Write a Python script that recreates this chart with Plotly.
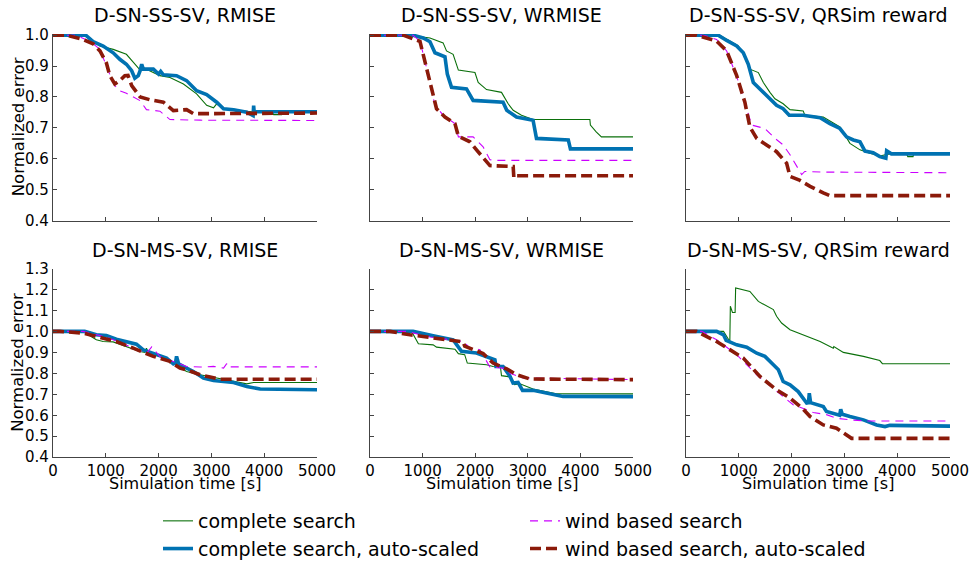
import plotly.graph_objects as go

# ---------------------------------------------------------------------------
# Normalized error vs. simulation time, six scenarios (2 rows x 3 metrics)
# ---------------------------------------------------------------------------

panel_titles = [
    "D-SN-SS-SV, RMISE", "D-SN-SS-SV, WRMISE", "D-SN-SS-SV, QRSim reward",
    "D-SN-MS-SV, RMISE", "D-SN-MS-SV, WRMISE", "D-SN-MS-SV, QRSim reward",
]
series_names = [
    "complete search",
    "complete search, auto-scaled",
    "wind based search",
    "wind based search, auto-scaled",
]
x_ticks = [0, 1000, 2000, 3000, 4000, 5000]

# --- D-SN-SS-SV, RMISE ------------------------------------------------------
ss_rmise_cs_t = [0, 600, 890, 1140, 1390, 1550, 1650, 1710, 1900, 2025, 2215, 2470, 2720, 2910,
                 3040, 3100, 3230, 3420, 3800, 4150, 4180, 4330, 4340, 5000]
ss_rmise_cs_v = [1.0, 1.0, 0.965, 0.954, 0.938, 0.906, 0.887, 0.895, 0.879, 0.869, 0.863, 0.842, 0.81, 0.773,
                 0.765, 0.778, 0.762, 0.759, 0.751, 0.751, 0.743, 0.743, 0.753, 0.753]
ss_rmise_csa_t = [0, 620, 760, 950, 1140, 1265, 1390, 1490, 1550, 1615, 1650, 1680, 1710, 1900, 2000, 2040,
                  2090, 2340, 2530, 2720, 2910, 3100, 3230, 3420, 3670, 3790, 3800, 3810, 3860, 5000]
ss_rmise_csa_v = [1.0, 1.0, 0.979, 0.965, 0.943, 0.922, 0.906, 0.885, 0.861, 0.869, 0.885, 0.906, 0.89, 0.89,
                  0.874, 0.883, 0.872, 0.869, 0.853, 0.82, 0.808, 0.783, 0.762, 0.759, 0.751, 0.74, 0.772,
                  0.751, 0.752, 0.752]
ss_rmise_wb_t = [0, 440, 700, 890, 1045, 1170, 1265, 1390, 1650, 1770, 2025, 2215, 2785, 5000]
ss_rmise_wb_v = [1.0, 1.0, 0.98, 0.954, 0.885, 0.837, 0.82, 0.812, 0.788, 0.759, 0.754, 0.727, 0.725, 0.724]
ss_rmise_wba_t = [0, 250, 570, 760, 890, 1010, 1076, 1170, 1265, 1360, 1420, 1490, 1650, 1835, 2090, 2280,
                  2530, 2660, 5000]
ss_rmise_wba_v = [1.0, 1.0, 0.986, 0.972, 0.949, 0.911, 0.869, 0.842, 0.853, 0.869, 0.87, 0.837, 0.8, 0.791,
                  0.783, 0.756, 0.759, 0.746, 0.748]

# --- D-SN-SS-SV, WRMISE -----------------------------------------------------
ss_wrmise_cs_t = [0, 760, 1140, 1390, 1455, 1580, 1680, 1995, 2057, 2215, 2500, 2627, 2722, 2880, 3100,
                  4180, 4190, 4300, 4400, 5000]
ss_wrmise_cs_v = [1.0, 1.0, 0.991, 0.975, 0.949, 0.938, 0.887, 0.879, 0.847, 0.824, 0.815, 0.778, 0.757,
                  0.741, 0.727, 0.727, 0.709, 0.687, 0.671, 0.671]
ss_wrmise_csa_t = [0, 820, 1010, 1140, 1235, 1330, 1425, 1470, 1550, 1835, 1960, 2530, 2600, 2785, 3100,
                   3165, 3770, 3810, 5000]
ss_wrmise_csa_v = [1.0, 1.0, 0.991, 0.979, 0.943, 0.938, 0.93, 0.874, 0.831, 0.826, 0.789, 0.783, 0.757,
                   0.735, 0.725, 0.666, 0.661, 0.632, 0.632]
ss_wrmise_wb_t = [0, 820, 950, 1045, 1140, 1235, 1390, 1615, 1680, 1960, 2150, 2280, 2405, 5000]
ss_wrmise_wb_v = [1.0, 1.0, 0.98, 0.917, 0.842, 0.773, 0.741, 0.714, 0.671, 0.671, 0.639, 0.597, 0.595, 0.595]
ss_wrmise_wba_t = [0, 630, 950, 1010, 1076, 1140, 1200, 1265, 1425, 1615, 1680, 1900, 2025, 2280, 2722,
                   2735, 2785, 5000]
ss_wrmise_wba_v = [1.0, 1.0, 0.98, 0.938, 0.885, 0.842, 0.8, 0.762, 0.735, 0.714, 0.673, 0.655, 0.629,
                   0.578, 0.575, 0.538, 0.545, 0.545]

# --- D-SN-SS-SV, QRSim reward -----------------------------------------------
ss_qrsim_cs_t = [0, 640, 830, 990, 1085, 1210, 1370, 1465, 1590, 1685, 1840, 1970, 2220, 2250, 2600, 2915,
                 3105, 3295, 3480, 3670, 3860, 4180, 4200, 4300, 4310, 5000]
ss_qrsim_cs_v = [1.0, 1.0, 0.981, 0.965, 0.938, 0.89, 0.879, 0.847, 0.815, 0.794, 0.778, 0.759, 0.755, 0.741,
                 0.735, 0.703, 0.65, 0.629, 0.618, 0.609, 0.616, 0.616, 0.607, 0.607, 0.616, 0.616]
ss_qrsim_csa_t = [0, 610, 770, 960, 1085, 1180, 1275, 1400, 1560, 1715, 1840, 1955, 2220, 2540, 2725, 2915,
                  3040, 3170, 3295, 3390, 3545, 3670, 3785, 3800, 3890, 5000]
ss_qrsim_csa_v = [1.0, 1.0, 0.983, 0.965, 0.943, 0.906, 0.847, 0.826, 0.8, 0.773, 0.762, 0.741, 0.741, 0.733,
                  0.714, 0.698, 0.671, 0.661, 0.655, 0.625, 0.62, 0.607, 0.602, 0.626, 0.616, 0.616]
ss_qrsim_wb_t = [0, 330, 580, 770, 895, 1020, 1150, 1245, 1340, 1495, 1685, 1840, 1970, 2095, 2190, 2250,
                 2600, 5000]
ss_qrsim_wb_v = [1.0, 1.0, 0.986, 0.949, 0.895, 0.837, 0.762, 0.709, 0.705, 0.698, 0.666, 0.645, 0.613,
                 0.575, 0.549, 0.559, 0.557, 0.555]
ss_qrsim_wba_t = [0, 200, 580, 770, 960, 1115, 1210, 1340, 1525, 1715, 1905, 1970, 2160, 2350, 2600, 2725, 5000]
ss_qrsim_wba_v = [1.0, 1.0, 0.981, 0.949, 0.869, 0.783, 0.703, 0.666, 0.645, 0.623, 0.586, 0.543, 0.53,
                  0.511, 0.49, 0.481, 0.481]

# --- D-SN-MS-SV, RMISE ------------------------------------------------------
ms_rmise_cs_t = [0, 570, 820, 950, 1140, 1390, 1645, 1740, 1770, 1800, 1835, 2090, 2280, 2530, 2785, 3100,
                 3420, 3670, 3800, 5000]
ms_rmise_cs_v = [1.0, 1.0, 0.96, 0.952, 0.95, 0.928, 0.904, 0.9, 0.92, 0.9, 0.893, 0.877, 0.849, 0.809,
                 0.793, 0.777, 0.761, 0.75, 0.756, 0.756]
ms_rmise_csa_t = [0, 600, 820, 1010, 1200, 1390, 1580, 1710, 1960, 2150, 2280, 2320, 2340, 2380, 2530, 2660,
                  2850, 3040, 3420, 3670, 3925, 5000]
ms_rmise_csa_v = [1.0, 1.0, 0.984, 0.98, 0.963, 0.952, 0.939, 0.912, 0.889, 0.873, 0.845, 0.85, 0.881, 0.845,
                  0.825, 0.809, 0.777, 0.766, 0.756, 0.737, 0.725, 0.722]
ms_rmise_wb_t = [0, 570, 890, 1010, 1770, 1870, 2025, 2280, 2435, 2530, 2785, 3040, 3230, 3290, 3300, 5000]
ms_rmise_wb_v = [1.0, 1.0, 0.98, 0.973, 0.895, 0.926, 0.88, 0.857, 0.841, 0.833, 0.83, 0.833, 0.825, 0.846,
                 0.831, 0.831]
ms_rmise_wba_t = [0, 130, 570, 890, 1200, 1520, 1900, 2215, 2405, 2530, 2785, 2975, 3165, 5000]
ms_rmise_wba_v = [1.0, 1.0, 0.992, 0.973, 0.952, 0.92, 0.881, 0.857, 0.825, 0.817, 0.793, 0.782, 0.772, 0.772]

# --- D-SN-MS-SV, WRMISE -----------------------------------------------------
ms_wrmise_cs_t = [0, 790, 920, 1200, 1265, 1615, 1680, 1800, 1850, 2215, 2340, 2480, 2500, 2660, 2750, 2850,
                  3100, 3545, 5000]
ms_wrmise_cs_v = [1.0, 1.0, 0.941, 0.936, 0.925, 0.915, 0.894, 0.889, 0.849, 0.841, 0.833, 0.83, 0.789,
                  0.783, 0.746, 0.75, 0.725, 0.703, 0.702]
ms_wrmise_csa_t = [0, 820, 1200, 1580, 1650, 1740, 2025, 2215, 2375, 2395, 2530, 2660, 2720, 2815, 2900,
                   3100, 3545, 3670, 5000]
ms_wrmise_csa_v = [1.0, 1.0, 0.979, 0.96, 0.936, 0.905, 0.897, 0.878, 0.865, 0.833, 0.833, 0.786, 0.754,
                   0.757, 0.719, 0.719, 0.698, 0.69, 0.689]
ms_wrmise_wb_t = [0, 700, 1140, 1580, 1770, 1800, 1900, 2090, 2280, 2530, 2660, 2910, 5000]
ms_wrmise_wb_v = [1.0, 1.0, 0.973, 0.957, 0.952, 0.945, 0.921, 0.913, 0.83, 0.825, 0.8, 0.778, 0.77]
ms_wrmise_wba_t = [0, 380, 760, 1265, 1580, 1770, 1800, 1960, 2150, 2340, 2600, 2785, 3040, 5000]
ms_wrmise_wba_v = [1.0, 1.0, 0.984, 0.968, 0.957, 0.95, 0.93, 0.913, 0.894, 0.849, 0.821, 0.794, 0.773, 0.77]

# --- D-SN-MS-SV, QRSim reward -----------------------------------------------
ms_qrsim_cs_t = [0, 710, 830, 840, 880, 930, 940, 1210, 1370, 1655, 1715, 1810, 1970, 2220, 2540, 2790, 2800,
                 2980, 3360, 3670, 3720, 5000]
ms_qrsim_cs_v = [1.0, 1.0, 0.952, 1.12, 1.09, 1.09, 1.207, 1.191, 1.143, 1.104, 1.072, 1.04, 1.008, 0.984,
                 0.952, 0.92, 0.928, 0.9, 0.881, 0.861, 0.846, 0.846]
ms_qrsim_csa_t = [0, 580, 710, 760, 960, 1150, 1340, 1495, 1655, 1750, 1840, 1970, 2125, 2285, 2320, 2335,
                  2360, 2600, 2660, 2885, 2910, 2930, 2960, 3105, 3360, 3610, 3770, 3860, 4370, 5000]
ms_qrsim_csa_v = [1.0, 1.0, 0.984, 0.957, 0.936, 0.925, 0.896, 0.881, 0.841, 0.817, 0.761, 0.745, 0.713,
                  0.658, 0.66, 0.705, 0.66, 0.642, 0.618, 0.602, 0.6, 0.629, 0.605, 0.594, 0.578, 0.554,
                  0.546, 0.552, 0.549, 0.548]
ms_qrsim_wb_t = [0, 300, 580, 960, 1340, 1715, 2030, 2285, 2410, 2660, 2850, 3105, 3420, 5000]
ms_qrsim_wb_v = [1.0, 1.0, 0.96, 0.889, 0.793, 0.713, 0.65, 0.626, 0.613, 0.603, 0.586, 0.578, 0.573, 0.573]
ms_qrsim_wba_t = [0, 200, 580, 830, 1085, 1400, 1715, 1970, 2220, 2350, 2600, 2850, 3040, 3135, 5000]
ms_qrsim_wba_v = [1.0, 1.0, 0.952, 0.912, 0.873, 0.785, 0.721, 0.682, 0.629, 0.594, 0.554, 0.538, 0.506,
                  0.49, 0.49]

panels = [
    [(ss_rmise_cs_t, ss_rmise_cs_v), (ss_rmise_csa_t, ss_rmise_csa_v),
     (ss_rmise_wb_t, ss_rmise_wb_v), (ss_rmise_wba_t, ss_rmise_wba_v)],
    [(ss_wrmise_cs_t, ss_wrmise_cs_v), (ss_wrmise_csa_t, ss_wrmise_csa_v),
     (ss_wrmise_wb_t, ss_wrmise_wb_v), (ss_wrmise_wba_t, ss_wrmise_wba_v)],
    [(ss_qrsim_cs_t, ss_qrsim_cs_v), (ss_qrsim_csa_t, ss_qrsim_csa_v),
     (ss_qrsim_wb_t, ss_qrsim_wb_v), (ss_qrsim_wba_t, ss_qrsim_wba_v)],
    [(ms_rmise_cs_t, ms_rmise_cs_v), (ms_rmise_csa_t, ms_rmise_csa_v),
     (ms_rmise_wb_t, ms_rmise_wb_v), (ms_rmise_wba_t, ms_rmise_wba_v)],
    [(ms_wrmise_cs_t, ms_wrmise_cs_v), (ms_wrmise_csa_t, ms_wrmise_csa_v),
     (ms_wrmise_wb_t, ms_wrmise_wb_v), (ms_wrmise_wba_t, ms_wrmise_wba_v)],
    [(ms_qrsim_cs_t, ms_qrsim_cs_v), (ms_qrsim_csa_t, ms_qrsim_csa_v),
     (ms_qrsim_wb_t, ms_qrsim_wb_v), (ms_qrsim_wba_t, ms_qrsim_wba_v)],
]

# ---------------------------------------------------------------------------
W, H = 976, 568
FONT = "DejaVu Sans"
AXIS_COLOR = "#444444"

line_styles = [
    dict(color="#0b700b", width=1.1, dash="solid"),
    dict(color="#0072b2", width=3.6, dash="solid"),
    dict(color="#cc00ff", width=1.1, dash="8px,6px"),
    dict(color="#8b1a0a", width=3.6, dash="11px,5px"),
]
legend_of = ["legend", "legend", "legend2", "legend2"]

# plot-area boundaries in pixels
col_px = [(53, 317), (370, 633), (686, 950)]
row_px = [(34, 221), (269, 458)]
y_ranges = [[0.4, 1.004], [0.4, 1.3]]


def px_x(p):
    return p / W


def px_y(p):
    return 1 - p / H


fig = go.Figure()
layout = {}
for i, data in enumerate(panels):
    r, c = divmod(i, 3)
    n = i + 1
    xa = "xaxis" if n == 1 else f"xaxis{n}"
    ya = "yaxis" if n == 1 else f"yaxis{n}"
    xref = "x" if n == 1 else f"x{n}"
    yref = "y" if n == 1 else f"y{n}"
    common = dict(showline=True, linecolor=AXIS_COLOR, linewidth=1.2, ticks="inside", ticklen=4,
                  tickwidth=1, tickcolor=AXIS_COLOR, showgrid=False, zeroline=False, automargin=False,
                  tickfont=dict(family=FONT, size=15, color="black"))
    layout[xa] = dict(common, domain=[px_x(col_px[c][0]), px_x(col_px[c][1])], anchor=yref,
                      range=[0, 5000], tickvals=x_ticks, showticklabels=(r == 1))
    layout[ya] = dict(common, domain=[px_y(row_px[r][1]), px_y(row_px[r][0])], anchor=xref,
                      range=y_ranges[r], dtick=0.1, tick0=0.4, tickformat=".1f",
                      showticklabels=(c == 0))
    for k, (t, v) in enumerate(data):
        fig.add_trace(go.Scatter(
            x=t, y=v, mode="lines", name=series_names[k], line=line_styles[k],
            xaxis=xref, yaxis=yref, legendgroup=series_names[k], legend=legend_of[k],
            showlegend=(i == 0),
        ))

annotations = []
for i, title in enumerate(panel_titles):
    r, c = divmod(i, 3)
    cx = (col_px[c][0] + col_px[c][1]) / 2
    annotations.append(dict(text=title, x=px_x(cx), y=px_y(row_px[r][0] - 19), xref="paper", yref="paper",
                            showarrow=False, xanchor="center", yanchor="middle",
                            font=dict(family=FONT, size=19, color="black")))
for r in range(2):
    cy = (row_px[r][0] + row_px[r][1]) / 2
    annotations.append(dict(text="Normalized error", x=px_x(18), y=px_y(cy), xref="paper", yref="paper",
                            showarrow=False, textangle=-90, xanchor="center", yanchor="middle",
                            font=dict(family=FONT, size=16.5, color="black")))
for c in range(3):
    cx = (col_px[c][0] + col_px[c][1]) / 2
    annotations.append(dict(text="Simulation time [s]", x=px_x(cx), y=px_y(484), xref="paper", yref="paper",
                            showarrow=False, xanchor="center", yanchor="middle",
                            font=dict(family=FONT, size=16, color="black")))

legend_common = dict(orientation="v", xanchor="left", yanchor="top", bgcolor="rgba(0,0,0,0)",
                     font=dict(family=FONT, size=19, color="black"), tracegroupgap=0,
                     itemwidth=30)
fig.update_layout(
    width=W, height=H, margin=dict(l=0, r=0, t=0, b=0),
    paper_bgcolor="white", plot_bgcolor="white",
    font=dict(family=FONT, color="black"),
    annotations=annotations,
    legend=dict(legend_common, x=px_x(158), y=px_y(503)),
    legend2=dict(legend_common, x=px_x(525), y=px_y(503)),
    **layout,
)

fig.write_html("out.html")
